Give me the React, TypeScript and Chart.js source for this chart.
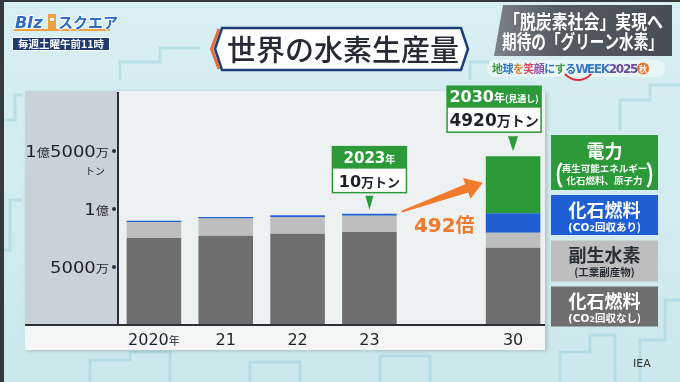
import React, { useEffect, useRef } from "react";
import { Chart, registerables } from "chart.js";

Chart.register(...registerables);

// ---------------- data ----------------
const categories = ["2020年", "21", "22", "23", "", "30"];
const fossilNoCapture = [7500, 7700, 7870, 8020, null, 6660]; // 万トン
const byproduct = [1380, 1480, 1430, 1400, null, 1300];
const fossilWithCapture = [100, 140, 160, 170, null, 1670];
const electricity = [0, 0, 0, 10, null, 4920];
const seriesNames = ["化石燃料(CO2回収なし)", "副生水素(工業副産物)", "化石燃料(CO2回収あり)", "電力"];
const seriesColors = ["#6e6e6e", "#bebebe", "#1f5fd3", "#2c9a39"];
const yTickValues = [5000, 10000, 15000];
const yTickLabels = ["5000万", "1億", "1億5000万"];
const yUnit = "トン";
const legendTitles = ["電力", "化石燃料", "副生水素", "化石燃料"];
const legendSubs = [["再生可能エネルギー", "化石燃料、原子力"], ["(CO2回収あり)"], ["(工業副産物)"], ["(CO2回収なし)"]];
const callout2023 = { index: 3, year: "2023", amount: "10" };
const callout2030 = { index: 5, year: "2030", amount: "4920" };
const ratioText = "492";
const titleText = "世界の水素生産量";
const headline = ["「脱炭素社会」実現へ", "期待の「グリーン水素」"];
const sourceText = "IEA";

const JP = '"Noto Sans CJK JP", "Noto Sans", sans-serif';
const NUM = '"DejaVu Sans", "Noto Sans CJK JP", sans-serif';

type Part = { t: string; s: number; w?: string; f?: string; dy?: number };

function partsWidth(ctx: CanvasRenderingContext2D, parts: Part[]) {
  let w = 0;
  for (const p of parts) {
    ctx.font = `${p.w || "bold"} ${p.s}px ${p.f || JP}`;
    w += ctx.measureText(p.t).width;
  }
  return w;
}

function drawParts(
  ctx: CanvasRenderingContext2D,
  parts: Part[],
  x: number,
  baseline: number,
  align: "left" | "center" | "right",
  color: string,
  sx = 1
) {
  const w = partsWidth(ctx, parts) * sx;
  let cx = align === "center" ? x - w / 2 : align === "right" ? x - w : x;
  ctx.save();
  ctx.translate(cx, baseline);
  ctx.scale(sx, 1);
  ctx.fillStyle = color;
  ctx.textAlign = "left";
  ctx.textBaseline = "alphabetic";
  let px = 0;
  for (const p of parts) {
    ctx.font = `${p.w || "bold"} ${p.s}px ${p.f || JP}`;
    ctx.fillText(p.t, px, p.dy || 0);
    px += ctx.measureText(p.t).width;
  }
  ctx.restore();
}

// split label: digits big (NUM font), the rest small (JP font)
function splitDigits(label: string, big: number, small: number, weight: string): Part[] {
  const out: Part[] = [];
  const re = /(\d+)|([^\d]+)/g;
  let m: RegExpExecArray | null;
  while ((m = re.exec(label))) {
    if (m[1]) out.push({ t: m[1], s: big, w: weight, f: NUM });
    else out.push({ t: m[2], s: small, w: weight, f: JP });
  }
  return out;
}

function coParts(sub: string, size: number): Part[] {
  const i = sub.indexOf("CO2");
  if (i < 0) return [{ t: sub, s: size, w: "bold", f: JP }];
  return [
    { t: sub.slice(0, i + 2), s: size, w: "bold", f: NUM },
    { t: "2", s: size * 0.75, w: "bold", f: NUM },
    { t: sub.slice(i + 3), s: size, w: "bold", f: JP },
  ];
}

const totals = categories.map((_, i) =>
  [fossilNoCapture, byproduct, fossilWithCapture, electricity].reduce((a, arr) => a + (arr[i] || 0), 0)
);

const deco = {
  id: "deco",
  beforeDraw(chart: any) {
    const ctx: CanvasRenderingContext2D = chart.ctx;
    const y = chart.scales.y;
    const axisX = chart.chartArea.left;
    const baseY = y.getPixelForValue(0);
    ctx.save();
    const g = ctx.createLinearGradient(0, 0, 0, 382);
    g.addColorStop(0, "#d8eff3");
    g.addColorStop(1, "#cce8ed");
    ctx.fillStyle = g;
    ctx.fillRect(0, 0, 680, 382);
    // faint building pattern
    ctx.strokeStyle = "rgba(150,205,215,0.45)";
    ctx.lineWidth = 3;
    const shapes = [
      [[560, 382], [560, 352], [590, 352], [590, 335], [615, 335], [615, 382]],
      [[640, 382], [640, 340], [665, 340], [665, 300], [680, 300]],
      [[0, 250], [10, 250], [10, 200], [22, 200]],
      [[0, 120], [15, 120], [15, 95], [22, 95]],
      [[90, 382], [90, 360], [130, 360], [130, 352], [170, 352], [170, 382]],
      [[250, 382], [250, 362], [300, 362], [300, 382]],
      [[380, 382], [380, 356], [430, 356], [430, 382]],
      [[120, 80], [120, 62], [160, 62], [160, 48], [200, 48]],
      [[470, 80], [470, 62], [490, 62]],
      [[620, 130], [620, 100], [650, 100], [650, 85], [680, 85]],
    ];
    for (const s of shapes) {
      ctx.beginPath();
      s.forEach((p, i) => (i ? ctx.lineTo(p[0], p[1]) : ctx.moveTo(p[0], p[1])));
      ctx.stroke();
    }
    // frame strips
    ctx.fillStyle = "#34393e";
    ctx.fillRect(0, 0, 4, 382);
    ctx.fillRect(0, 0, 680, 2);
    // panel
    ctx.save();
    ctx.shadowColor = "rgba(0,0,0,0.18)";
    ctx.shadowBlur = 4;
    ctx.shadowOffsetX = 2;
    ctx.shadowOffsetY = 1;
    ctx.fillStyle = "#eef1f1";
    ctx.fillRect(25, 91, 520, 259);
    ctx.restore();
    ctx.fillStyle = "#c9d1d9";
    ctx.fillRect(25, 91, axisX - 25, baseY - 91);
    ctx.fillStyle = "#f4f6f6";
    ctx.fillRect(25, baseY, 520, 350 - baseY);
    ctx.restore();
  },
  afterDraw(chart: any) {
    const ctx: CanvasRenderingContext2D = chart.ctx;
    const x = chart.scales.x;
    const y = chart.scales.y;
    const axisX = chart.chartArea.left;
    const baseY = y.getPixelForValue(0);
    ctx.save();

    // baseline
    ctx.fillStyle = "#2b2f36";
    ctx.fillRect(25, baseY - 1, 520, 2);

    // y labels + tick dots
    yTickValues.forEach((v, i) => {
      const py = y.getPixelForValue(v);
      drawParts(ctx, splitDigits(yTickLabels[i], 15, 11, "normal"), axisX - 9, py + 5.5, "right", "#1e2228", 1.2);
      ctx.fillStyle = "#2a3040";
      ctx.beginPath();
      ctx.arc(axisX - 4, py, 2, 0, Math.PI * 2);
      ctx.fill();
    });
    drawParts(ctx, [{ t: yUnit, s: 10, w: "normal" }], axisX - 13, y.getPixelForValue(15000) + 24, "right", "#1e2228");

    // x labels
    categories.forEach((c, i) => {
      if (!c) return;
      const px = x.getPixelForTick(i);
      drawParts(ctx, splitDigits(c, 16, 11, "normal"), px, baseY + 20, "center", "#1e2228");
    });

    const meta = chart.getDatasetMeta(0);
    const green = seriesColors[3];

    const drawCallout = (
      cx: number,
      w: number,
      top: number,
      hh: number,
      bh: number,
      header: Part[],
      body: Part[],
      triX: number,
      triTop: number,
      triTip: number,
      triHW: number
    ) => {
      const left = cx - w / 2;
      ctx.fillStyle = "#ffffff";
      ctx.fillRect(left, top, w, hh + bh);
      ctx.fillStyle = green;
      ctx.fillRect(left, top, w, hh);
      ctx.strokeStyle = green;
      ctx.lineWidth = 1.5;
      ctx.strokeRect(left, top, w, hh + bh);
      drawParts(ctx, header, cx, top + hh / 2 + 5.5, "center", "#ffffff");
      drawParts(ctx, body, cx, top + hh + bh / 2 + 6.5, "center", "#1e2228");
      ctx.fillStyle = green;
      ctx.beginPath();
      ctx.moveTo(triX - triHW, triTop);
      ctx.lineTo(triX + triHW, triTop);
      ctx.lineTo(triX, triTip);
      ctx.closePath();
      ctx.fill();
    };

    // 2023 callout
    const b23 = meta.data[callout2023.index];
    const x23 = b23.x;
    const top23 = y.getPixelForValue(totals[callout2023.index]);
    drawCallout(
      x23, 74, top23 - 67, 22, 24,
      [{ t: callout2023.year, s: 15, f: NUM }, { t: "年", s: 10 }],
      [{ t: callout2023.amount, s: 16, f: NUM }, { t: "万トン", s: 13 }],
      x23, top23 - 18, top23 - 4, 4
    );

    // 2030 callout
    const b30 = meta.data[callout2030.index];
    const x30 = b30.x;
    const top30 = y.getPixelForValue(totals[callout2030.index]);
    drawCallout(
      x30 - 19, 94, top30 - 70, 21.5, 24.5,
      [{ t: callout2030.year, s: 16, f: NUM }, { t: "年", s: 11 }, { t: "(見通し)", s: 9 }],
      [{ t: callout2030.amount, s: 17, f: NUM }, { t: "万トン", s: 14 }],
      x30, top30 - 20, top30 - 5, 5
    );

    // arrow
    const bw = b23.width || 54;
    const tx = x23 + bw / 2 + 5;
    const ty = top23 - 2;
    const hx = x30 - bw / 2 - 3;
    const hy = ty - 29;
    const dx = hx - tx, dy = hy - ty;
    const L = Math.hypot(dx, dy);
    const ux = dx / L, uy = dy / L;
    const nx = -uy, ny = ux;
    const hl = 17, hw = 11;
    const bx = hx - ux * hl, by = hy - uy * hl;
    ctx.fillStyle = "#f07a2c";
    ctx.beginPath();
    ctx.moveTo(tx + nx * 1, ty + ny * 1);
    ctx.lineTo(bx + nx * 4.5, by + ny * 4.5);
    ctx.lineTo(bx + nx * hw, by + ny * hw);
    ctx.lineTo(hx, hy);
    ctx.lineTo(bx - nx * hw, by - ny * hw);
    ctx.lineTo(bx - nx * 4.5, by - ny * 4.5);
    ctx.lineTo(tx - nx * 1, ty - ny * 1);
    ctx.closePath();
    ctx.fill();
    drawParts(ctx, [{ t: ratioText, s: 20, f: NUM }, { t: "倍", s: 19 }], (tx + hx) / 2 + 2, ty + 20, "center", "#ef7a2d");

    // legend boxes
    const boxes = [
      { y: 135, h: 55, c: seriesColors[3], tc: "#ffffff" },
      { y: 195, h: 40, c: seriesColors[2], tc: "#ffffff" },
      { y: 240.5, h: 41, c: seriesColors[1], tc: "#2a2e35" },
      { y: 286.5, h: 40, c: seriesColors[0], tc: "#ffffff" },
    ];
    const lx = 551, lw = 107, lcx = lx + lw / 2;
    boxes.forEach((b, i) => {
      ctx.fillStyle = b.c;
      ctx.fillRect(lx, b.y, lw, b.h);
      if (i === 0) {
        drawParts(ctx, [{ t: legendTitles[i], s: 18 }], lcx, b.y + 23, "center", b.tc);
        drawParts(ctx, [{ t: legendSubs[i][0], s: 9.5 }], lcx, b.y + 36.5, "center", b.tc);
        drawParts(ctx, [{ t: legendSubs[i][1], s: 9.5 }], lcx, b.y + 49, "center", b.tc);
        ctx.strokeStyle = b.tc;
        ctx.lineWidth = 2.5;
        ctx.beginPath();
        ctx.ellipse(lx + 13, b.y + 40, 6, 13, 0, Math.PI * 0.62, Math.PI * 1.38);
        ctx.stroke();
        ctx.beginPath();
        ctx.ellipse(lx + lw - 13, b.y + 40, 6, 13, 0, -Math.PI * 0.38, Math.PI * 0.38);
        ctx.stroke();
      } else {
        drawParts(ctx, [{ t: legendTitles[i], s: 18 }], lcx, b.y + 21.5, "center", b.tc);
        drawParts(ctx, coParts(legendSubs[i][0], 10.5), lcx, b.y + 35.5, "center", b.tc);
      }
    });

    // title box
    ctx.beginPath();
    ctx.moveTo(215, 49);
    ctx.lineTo(222, 28);
    ctx.lineTo(461, 28);
    ctx.lineTo(468, 49);
    ctx.lineTo(461, 70);
    ctx.lineTo(222, 70);
    ctx.closePath();
    ctx.fillStyle = "#ffffff";
    ctx.fill();
    ctx.strokeStyle = "#1f3d7a";
    ctx.lineWidth = 2.5;
    ctx.stroke();
    ctx.strokeStyle = "#ea6a35";
    ctx.lineWidth = 3;
    ctx.beginPath();
    ctx.moveTo(219, 29);
    ctx.lineTo(211.5, 49);
    ctx.lineTo(219, 69);
    ctx.stroke();
    drawParts(ctx, [{ t: titleText, s: 29, w: "500" }], 343, 61, "center", "#262a35");

    // headline box (top right)
    const hg = ctx.createLinearGradient(494, 0, 672, 0);
    hg.addColorStop(0, "#7d838a");
    hg.addColorStop(0.35, "#555b62");
    hg.addColorStop(1, "#474d54");
    ctx.fillStyle = hg;
    ctx.beginPath();
    ctx.moveTo(503, 5);
    ctx.lineTo(672, 5);
    ctx.lineTo(672, 56);
    ctx.lineTo(494, 56);
    ctx.closePath();
    ctx.fill();
    ctx.fillStyle = "#ffffff";
    ctx.font = `bold 19px ${JP}`;
    ctx.textAlign = "left";
    ctx.textBaseline = "alphabetic";
    ctx.fillText(headline[0], 504, 28.5, 159);
    ctx.fillText(headline[1], 502, 48.5, 161);

    // campaign line
    ctx.fillStyle = "rgba(255,255,255,0.45)";
    ctx.beginPath();
    ctx.roundRect(487, 60, 178, 17, 8);
    ctx.fill();
    const camp = "地球を笑顔にするWEEK2025";
    const campColors = ["#3a9a3c", "#2a72c8", "#e0812a", "#d9485e", "#8e4bb0", "#2a72c8", "#3a9a3c", "#2a72c8",
      "#3a7ac8", "#3a7ac8", "#3a7ac8", "#3a7ac8", "#6a4a9a", "#6a4a9a", "#6a4a9a", "#6a4a9a"];
    let cxp = 492;
    for (let i = 0; i < camp.length; i++) {
      const ch = camp[i];
      const isJ = i < 8;
      ctx.font = `bold ${isJ ? 11 : 12}px ${isJ ? JP : NUM}`;
      ctx.fillStyle = campColors[i];
      ctx.fillText(ch, cxp, 73);
      cxp += ctx.measureText(ch).width * (isJ ? 0.95 : 0.85);
    }
    ctx.fillStyle = "#e8742c";
    ctx.beginPath();
    ctx.arc(cxp + 6, 68.5, 6, 0, Math.PI * 2);
    ctx.fill();
    ctx.fillStyle = "#ffffff";
    ctx.font = `bold 8px ${JP}`;
    ctx.textAlign = "center";
    ctx.fillText("秋", cxp + 6, 71.5);
    ctx.textAlign = "left";
    ctx.strokeStyle = "#d8323a";
    ctx.lineWidth = 2;
    ctx.beginPath();
    ctx.arc(578, 63, 17, Math.PI * 0.22, Math.PI * 0.78);
    ctx.stroke();

    // logo
    ctx.fillStyle = "#f0a040";
    ctx.fillRect(14, 29, 96, 2);
    ctx.fillRect(48, 14, 8, 15);
    ctx.fillStyle = "#ffffff";
    ctx.fillRect(50, 18, 4, 3);
    ctx.font = `italic bold 16px ${NUM}`;
    ctx.lineWidth = 2;
    ctx.strokeStyle = "#ffffff";
    ctx.strokeText("BIz", 15, 28);
    ctx.fillStyle = "#2c6cc8";
    ctx.fillText("BIz", 15, 28);
    ctx.font = `bold 15px ${JP}`;
    ctx.strokeText("スクエア", 58, 28);
    ctx.fillText("スクエア", 58, 28);
    ctx.fillStyle = "#1f3a70";
    ctx.fillRect(12, 37, 98, 14);
    ctx.strokeStyle = "#ffffff";
    ctx.lineWidth = 1;
    ctx.strokeRect(12.5, 37.5, 97, 13);
    drawParts(ctx, [{ t: "毎週土曜午前11時", s: 10.5 }], 61, 48, "center", "#ffffff");

    // source
    drawParts(ctx, [{ t: sourceText, s: 11, w: "normal", f: NUM }], 633, 367, "left", "#333333");

    ctx.restore();
  },
};

export default function App() {
  const ref = useRef<HTMLCanvasElement>(null);
  useEffect(() => {
    const chart = new Chart(ref.current as HTMLCanvasElement, {
      type: "bar",
      data: {
        labels: categories,
        datasets: [fossilNoCapture, byproduct, fossilWithCapture, electricity].map((d, i) => ({
          label: seriesNames[i],
          data: d as any,
          backgroundColor: seriesColors[i],
          borderWidth: 0,
          categoryPercentage: 1,
          barPercentage: 0.76,
        })),
      },
      options: {
        responsive: false,
        animation: false,
        devicePixelRatio: 1,
        layout: { padding: { left: 25, right: 131, top: 93, bottom: 32 } },
        plugins: { legend: { display: false }, tooltip: { enabled: false }, title: { display: false } },
        scales: {
          x: {
            stacked: true,
            grid: { display: false },
            border: { display: false },
            ticks: { display: false },
            afterFit: (s: any) => {
              s.height = 25;
            },
          },
          y: {
            stacked: true,
            min: 0,
            max: 20000,
            ticks: { display: false, stepSize: 5000 },
            afterFit: (s: any) => {
              s.width = 93;
            },
            border: { display: true, color: "#2a3040", width: 2 },
            grid: { display: false },
          },
        },
      },
      plugins: [deco],
    });
    return () => chart.destroy();
  }, []);
  return (
    <div style={{ position: "fixed", left: 0, top: 0, width: 680, height: 382 }}>
      <canvas ref={ref} width={680} height={382} style={{ display: "block", width: 680, height: 382 }} />
    </div>
  );
}
